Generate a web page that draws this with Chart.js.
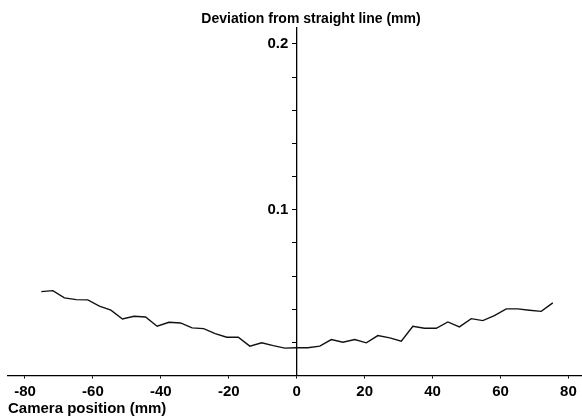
<!DOCTYPE html>
<html>
<head>
<meta charset="utf-8">
<script src="https://cdn.jsdelivr.net/npm/chart.js@4/dist/chart.umd.min.js"></script>
<style>
  html, body { margin: 0; padding: 0; background: #fff; }
  #wrap { width: 582px; height: 418px; }
</style>
</head>
<body>
<div id="wrap"><canvas id="myChart" width="582" height="418"></canvas></div>
<script>
// camera position (mm) and deviation (mm)
var positions = [-75.2, -71.8, -68.4, -64.9, -61.5, -58.1, -54.7, -51.3, -47.9, -44.5,
    -41.1, -37.6, -34.2, -30.8, -27.4, -24.0, -20.6, -17.2, -13.8, -10.3,
    -6.9, -3.5, -0.1, 3.3, 6.8, 10.2, 13.6, 17.1, 20.5, 23.9,
    27.4, 30.8, 34.2, 37.6, 41.1, 44.5, 47.9, 51.4, 54.8, 58.2,
    61.7, 65.1, 68.5, 72.0, 75.4];
var deviations = [0.0506, 0.0512, 0.0468, 0.0458, 0.0456, 0.0418, 0.0394, 0.0341, 0.0357, 0.0353,
    0.0297, 0.0321, 0.0317, 0.0287, 0.0283, 0.0253, 0.0231, 0.0231, 0.0177, 0.0197,
    0.0180, 0.0165, 0.0167, 0.0167, 0.0177, 0.0217, 0.0201, 0.0217, 0.0197, 0.0241,
    0.0227, 0.0207, 0.0297, 0.0285, 0.0285, 0.0323, 0.0293, 0.0343, 0.0331, 0.0361,
    0.0402, 0.0402, 0.0394, 0.0387, 0.0438];

var xTicks = [-80, -60, -40, -20, 0, 20, 40, 60, 80];
var yTicks = [0, 0.02, 0.04, 0.06, 0.08, 0.1, 0.12, 0.14, 0.16, 0.18, 0.2];
var yLabelled = [0.1, 0.2];

var chartTitle = 'Deviation from straight line (mm)';
var xTitle = 'Camera position (mm)';

var points = positions.map(function (x, i) { return { x: x, y: deviations[i] }; });

var FONT = "'Liberation Sans', Arial, Helvetica, sans-serif";

// title sits a bit right of the y axis, like in the scan
var topTitle = {
    id: 'topTitle',
    afterDraw: function (chart) {
        var ctx = chart.ctx;
        ctx.save();
        ctx.font = 'bold 14px ' + FONT;
        ctx.fillStyle = '#000';
        ctx.textAlign = 'center';
        ctx.textBaseline = 'middle';
        ctx.fillText(chartTitle, 311, 19.5);
        ctx.restore();
    }
};

var ctx = document.getElementById('myChart').getContext('2d');
var myChart = new Chart(ctx, {
    type: 'line',
    data: {
        datasets: [{
            data: points,
            borderColor: '#111',
            borderWidth: 1.4,
            pointRadius: 0,
            tension: 0,
            fill: false
        }]
    },
    options: {
        responsive: false,
        animation: false,
        layout: { padding: { left: 8, right: 0, top: 27.4, bottom: 0 } },
        plugins: {
            legend: { display: false },
            tooltip: { enabled: false }
        },
        scales: {
            x: {
                type: 'linear',
                position: 'bottom',
                min: -85,
                max: 84,
                afterBuildTicks: function (scale) {
                    scale.ticks = xTicks.map(function (v) { return { value: v }; });
                },
                afterFit: function (scale) { scale.height = 42.5; },
                grid: { drawOnChartArea: false, tickLength: 3, color: '#000', lineWidth: 1 },
                border: { color: '#000', width: 1.3 },
                ticks: {
                    color: '#000',
                    padding: 4,
                    maxRotation: 0,
                    autoSkip: false,
                    font: { family: FONT, size: 15, weight: 'bold' }
                },
                title: {
                    display: true,
                    text: xTitle,
                    align: 'start',
                    color: '#000',
                    padding: { top: 0, bottom: 0 },
                    font: { family: FONT, size: 15, weight: 'bold' }
                }
            },
            y: {
                type: 'linear',
                position: { x: 0 },
                min: 0,
                max: 0.21,
                afterBuildTicks: function (scale) {
                    scale.ticks = yTicks.map(function (v) { return { value: v }; });
                },
                grid: { drawOnChartArea: false, tickLength: 4, color: '#000', lineWidth: 1 },
                border: { color: '#000', width: 1.3 },
                ticks: {
                    color: '#000',
                    autoSkip: false,
                    font: { family: FONT, size: 15, weight: 'bold' },
                    // axis sits mid-chart, so padding is ignored: pad with spaces
                    callback: function (value) {
                        for (var i = 0; i < yLabelled.length; i++) {
                            if (Math.abs(value - yLabelled[i]) < 1e-9) return yLabelled[i].toFixed(1) + '  ';
                        }
                        return '';
                    }
                }
            }
        }
    },
    plugins: [topTitle]
});
</script>
</body>
</html>
